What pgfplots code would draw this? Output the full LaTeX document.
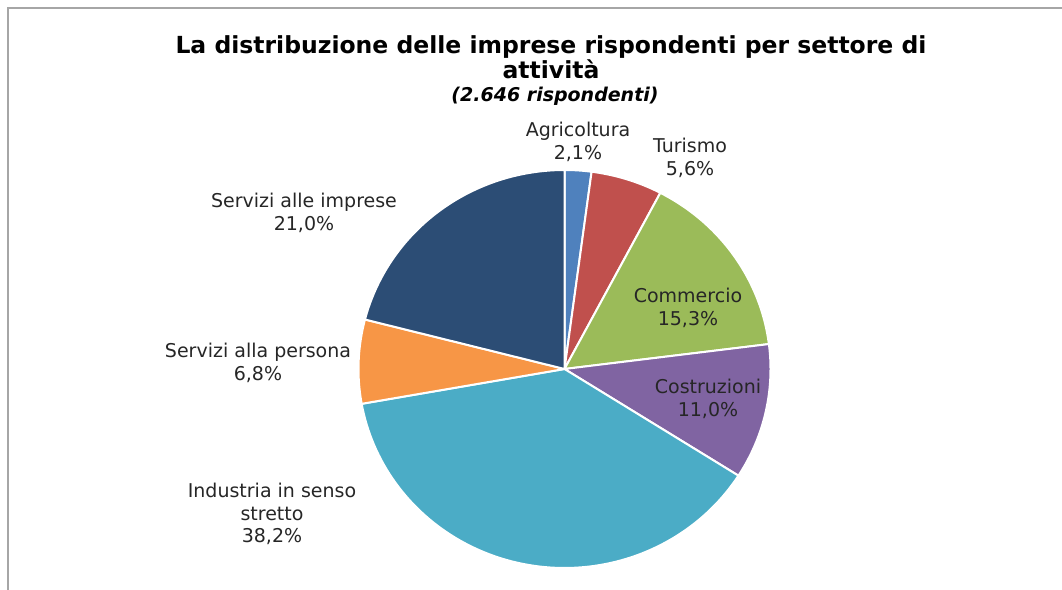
\documentclass[border=0pt]{standalone}
\usepackage{pgfplots}
\pgfplotsset{compat=1.18}
\usepackage{fontspec}
\setmainfont{DejaVu Sans}
\definecolor{cAgr}{HTML}{4F81BD}
\definecolor{cTur}{HTML}{C0504D}
\definecolor{cCom}{HTML}{9BBB59}
\definecolor{cCos}{HTML}{8064A2}
\definecolor{cInd}{HTML}{4BACC6}
\definecolor{cPer}{HTML}{F79646}
\definecolor{cImp}{HTML}{2C4D75}
\definecolor{lbl}{HTML}{262626}
\definecolor{frame}{HTML}{A6A6A6}
% shares (percent), clockwise from 12 o'clock
\def\pAgr{2.1}
\def\pTur{5.6}
\def\pCom{15.3}
\def\pCos{11.0}
\def\pInd{38.2}
\def\pPer{6.8}
\def\pImp{21.0}
\pgfmathsetmacro\aA{90}
\pgfmathsetmacro\aB{\aA-3.6*\pAgr}
\pgfmathsetmacro\aC{\aB-3.6*\pTur}
\pgfmathsetmacro\aD{\aC-3.6*\pCom}
\pgfmathsetmacro\aE{\aD-3.6*\pCos}
\pgfmathsetmacro\aF{\aE-3.6*\pInd}
\pgfmathsetmacro\aG{\aF-3.6*\pPer}
\pgfmathsetmacro\aH{\aG-3.6*\pImp}
\def\cx{564.5}
\def\cy{220}
\def\rx{206}
\def\ry{199}
\newcommand\slice[3]{%
  \addplot[fill=#3, draw=white, line width=2pt, line join=round, domain=#2:#1, samples=90, variable=\t]
    ({\cx+\rx*cos(\t)},{\cy+\ry*sin(\t)}) -- (axis cs:\cx,\cy) -- cycle;}
\begin{document}
\begin{tikzpicture}
\begin{axis}[scale only axis, width=1062pt, height=589pt,
  xmin=0, xmax=1062, ymin=0, ymax=589, hide axis, clip=false]
\slice{\aA}{\aB}{cAgr}
\slice{\aB}{\aC}{cTur}
\slice{\aC}{\aD}{cCom}
\slice{\aD}{\aE}{cCos}
\slice{\aE}{\aF}{cInd}
\slice{\aF}{\aG}{cPer}
\slice{\aG}{\aH}{cImp}
\begin{scope}[every node/.style={align=center, text=lbl, font=\fontsize{19}{22.5}\selectfont}]
\node at (axis cs:578,447) {Agricoltura\\2,1\%};
\node at (axis cs:690,431) {Turismo\\5,6\%};
\node at (axis cs:688,281) {Commercio\\15,3\%};
\node at (axis cs:708,190) {Costruzioni\\11,0\%};
\node at (axis cs:272,75) {Industria in senso\\stretto\\38,2\%};
\node at (axis cs:258,226) {Servizi alla persona\\6,8\%};
\node at (axis cs:304,376) {Servizi alle imprese\\21,0\%};
\end{scope}
\node[align=center, font=\fontsize{23.5}{25}\selectfont\bfseries] at (axis cs:551,531.5) {La distribuzione delle imprese rispondenti per settore di\\attività};
\node[font=\fontsize{19}{20}\selectfont\bfseries\itshape] at (axis cs:555,493) {(2.646 rispondenti)};
\draw[frame, line width=1.5pt] (axis cs:8,-5) -- (axis cs:8,581) -- (axis cs:1070,581);
\end{axis}
\pgfresetboundingbox
\useasboundingbox (0,0) rectangle (1062pt,589pt);
\end{tikzpicture}
\end{document}
